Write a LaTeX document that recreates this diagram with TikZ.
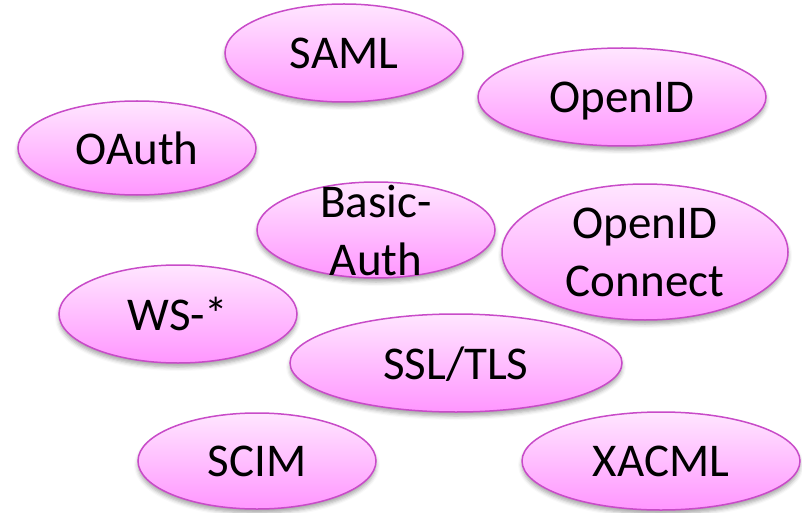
\documentclass[tikz,border=0pt]{standalone}
\usepackage{fontspec}
\setmainfont{Carlito}
\usepackage{tikz}
\usetikzlibrary{shapes.geometric,shadows.blur}
\definecolor{bubbletop}{RGB}{255,230,255}
\definecolor{bubblebottom}{RGB}{255,150,255}
\definecolor{bubbleline}{RGB}{200,75,200}
\tikzset{
x=1pt, y=-1pt, % pixel-like units, y grows downwards
bubble/.style={ellipse, draw=bubbleline, line width=1.5pt, top color=bubbletop, bottom color=bubblebottom, inner sep=0pt,
  blur shadow={shadow xshift=0pt, shadow yshift=-4pt, shadow blur radius=4pt, shadow opacity=35}}, % the pink ovals
word/.style={font=\fontsize{47}{58}\selectfont, align=center, text depth=0pt, inner sep=0pt}, % text on the ovals
}
\begin{document}
\begin{tikzpicture}
		\useasboundingbox (0,0) rectangle (802,513);
		\node[bubble, minimum width=238, minimum height=98] (saml) at (344,53) {};
		\node[bubble, minimum width=288, minimum height=98] (openid) at (622,97) {};
		\node[bubble, minimum width=238, minimum height=94] (oauth) at (137,148) {};
		\node[bubble, minimum width=238, minimum height=96] (basic) at (376,230) {};
		\node[bubble, minimum width=286, minimum height=136] (oidc) at (645,252) {};
		\node[bubble, minimum width=238, minimum height=98] (ws) at (178,314) {};
		\node[bubble, minimum width=332, minimum height=98] (ssl) at (456,363) {};
		\node[bubble, minimum width=238, minimum height=96] (scim) at (257,461) {};
		\node[bubble, minimum width=278, minimum height=98] (xacml) at (661,461) {};
		% labels
		\node[word] (saml-t) at (saml) {SAML};
		\node[word] (openid-t) at (openid) {OpenID};
		\node[word] (oauth-t) at (oauth) {OAuth};
		\node[word] (basic-t) at (basic) {Basic-\\Auth};
		\node[word] (oidc-t) at (oidc) {OpenID\\Connect};
		\node[word] (ws-t) at (ws) {WS-*};
		\node[word] (ssl-t) at (ssl) {SSL/TLS};
		\node[word] (scim-t) at (scim) {SCIM};
		\node[word] (xacml-t) at (xacml) {XACML};
	\end{tikzpicture}
\end{document}
